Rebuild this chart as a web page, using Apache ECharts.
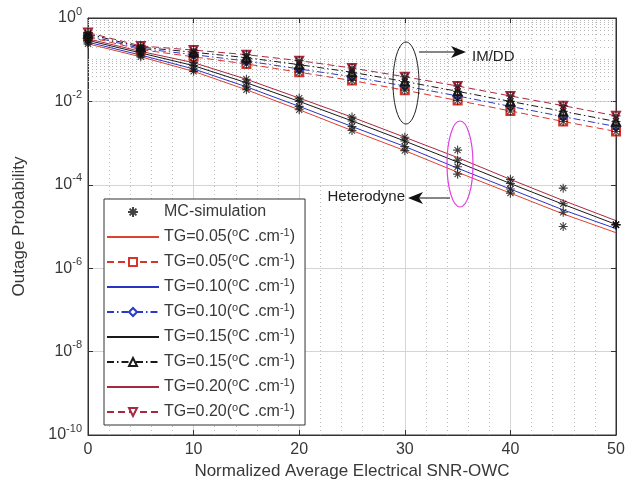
<!DOCTYPE html>
<html>
<head>
<meta charset="utf-8">
<script src="https://cdn.jsdelivr.net/npm/echarts@6/dist/echarts.min.js"></script>
<style>html,body{margin:0;padding:0;background:#fff;}#c{width:628px;height:494px;}</style>
</head>
<body>
<div id="c"></div>
<script>
// ---- data ----
const snr = [0, 5, 10, 15, 20, 25, 30, 35, 40, 45, 50];
const tgLabels = ['0.05', '0.10', '0.15', '0.20'];
const xTicks = [0, 10, 20, 30, 40, 50];

// Heterodyne (solid lines)
const het005 = [0.24, 0.117, 0.0525, 0.019, 6.3e-3, 2.0e-3, 6.6e-4, 2.0e-4, 6.3e-5, 2.0e-5, 7.1e-6];
const het010 = [0.263, 0.129, 0.060, 0.0224, 7.6e-3, 2.5e-3, 8.3e-4, 2.5e-4, 7.9e-5, 2.5e-5, 8.9e-6];
const het015 = [0.29, 0.145, 0.072, 0.028, 0.010, 3.4e-3, 1.12e-3, 3.5e-4, 1.07e-4, 3.4e-5, 1.12e-5];
const het020 = [0.316, 0.158, 0.085, 0.034, 0.012, 4.2e-3, 1.38e-3, 4.5e-4, 1.35e-4, 4.2e-5, 1.38e-5];

// IM/DD (dashed lines with markers)
const im005 = [0.355, 0.174, 0.117, 0.079, 0.050, 0.0316, 0.0186, 0.0105, 5.9e-3, 3.3e-3, 1.9e-3];
const im010 = [0.38, 0.186, 0.132, 0.093, 0.060, 0.039, 0.0234, 0.0135, 7.6e-3, 4.3e-3, 2.5e-3];
const im015 = [0.417, 0.200, 0.151, 0.112, 0.076, 0.050, 0.030, 0.0174, 0.010, 5.75e-3, 3.3e-3];
const im020 = [0.447, 0.214, 0.170, 0.132, 0.095, 0.063, 0.039, 0.0234, 0.0135, 7.9e-3, 4.5e-3];

// MC-simulation points (heterodyne)
const mcHet005 = [0.24, 0.117, 0.0525, 0.019, 6.3e-3, 2.0e-3, 6.6e-4, 1.8e-4, 6.3e-5, 1.0e-5, 1.1e-5];
const mcHet010 = [0.263, 0.129, 0.060, 0.0224, 7.6e-3, 2.5e-3, 8.3e-4, 2.7e-4, 7.9e-5, 2.2e-5, 1.1e-5];
const mcHet015 = [0.29, 0.145, 0.072, 0.028, 0.010, 3.4e-3, 1.12e-3, 3.9e-4, 1.07e-4, 3.5e-5, 1.1e-5];
const mcHet020 = [0.316, 0.158, 0.085, 0.034, 0.012, 4.2e-3, 1.38e-3, 6.8e-4, 1.35e-4, 8.3e-5, 1.1e-5];
// MC-simulation points (IM/DD)
const mcIm005 = [0.355, 0.174, 0.117, 0.079, 0.050, 0.0316, 0.0186, 0.0105, 5.9e-3, 3.3e-3, 1.9e-3];
const mcIm010 = [0.38, 0.186, 0.132, 0.093, 0.060, 0.039, 0.0234, 0.0135, 7.6e-3, 4.3e-3, 2.5e-3];
const mcIm015 = [0.417, 0.200, 0.151, 0.112, 0.076, 0.050, 0.030, 0.0174, 0.010, 5.75e-3, 3.3e-3];
const mcIm020 = [0.447, 0.214, 0.170, 0.132, 0.095, 0.063, 0.039, 0.0234, 0.0135, 7.9e-3, 4.5e-3];

// ---- styling ----
const FONT = '"Liberation Sans", Arial, sans-serif';
const TXT = '#383838';
const hetColors = ['#e0402e', '#2a34c4', '#1a1a1a', '#a8283f'];
const imColors = ['#d8352a', '#2a3ac8', '#1a1a1a', '#a8283f'];
const imDash = [[7, 4], [7, 3, 1.5, 3], [7, 3, 1.5, 3], [7, 4]];
const imSymbols = ['emptyRect', 'emptyDiamond', 'emptyTriangle', 'emptyTriangle'];
const imRotate = [0, 0, 0, 180];
const ASTERISK = 'path://M0,5L10,5M5,0L5,10M1.6,1.6L8.4,8.4M1.6,8.4L8.4,1.6';

const hetData = [het005, het010, het015, het020];
const imData = [im005, im010, im015, im020];
const mcHet = [mcHet005, mcHet010, mcHet015, mcHet020];
const mcIm = [mcIm005, mcIm010, mcIm015, mcIm020];

const pairs = arr => snr.map((x, i) => [x, arr[i]]);

// minor log grid values (helper, not data)
const yMinor = [];
for (let e = -10; e <= -1; e++) {
  for (let k = 1; k <= 9; k++) {
    if (k === 1 && e % 2 === 0) continue;
    yMinor.push(k * Math.pow(10, e));
  }
}

const series = [];
const legendData = [{ name: 'MC-simulation' }];
tgLabels.forEach((tg, i) => {
  series.push({
    name: 'het-' + tg, type: 'line', data: pairs(hetData[i]),
    symbol: 'none', lineStyle: { color: hetColors[i], width: 1 },
    itemStyle: { color: hetColors[i] }, z: 3, animation: false
  });
  series.push({
    name: 'im-' + tg, type: 'line', data: pairs(imData[i]),
    symbol: imSymbols[i], symbolRotate: imRotate[i], symbolSize: 8,
    showAllSymbol: true,
    lineStyle: { color: imColors[i], width: 1, type: imDash[i] },
    itemStyle: { color: imColors[i], borderColor: imColors[i], borderWidth: 1 },
    z: 3, animation: false
  });
  legendData.push({ name: 'het-' + tg, itemStyle: { opacity: 0 } }, { name: 'im-' + tg });
});
const mcPoints = [];
tgLabels.forEach((tg, i) => {
  mcPoints.push(...pairs(mcHet[i]));
  mcPoints.push(...pairs(mcIm[i]));
});
series.unshift({
  name: 'MC-simulation', type: 'scatter', data: mcPoints,
  symbol: ASTERISK, symbolSize: 9,
  itemStyle: { color: 'rgba(0,0,0,0)', borderColor: '#111', borderWidth: 1.1 },
  z: 5, animation: false
});
// helper series that draws the dotted minor log grid
series.push({
  name: '_grid', type: 'line', data: [], silent: true, animation: false,
  markLine: {
    silent: true, symbol: ['none', 'none'], animation: false, z: 1,
    label: { show: false },
    lineStyle: { type: [1, 3], color: '#b8b8b8', width: 1 },
    emphasis: { disabled: true },
    data: yMinor.map(v => ({ yAxis: v }))
  }
});

const supLabel = v => {
  const e = Math.round(Math.log10(v));
  return '{b|10}{e|' + e + '}';
};

const option = {
  backgroundColor: '#fff',
  animation: false,
  grid: { left: 88, right: 12, top: 18, bottom: 59, show: true, borderColor: '#333', borderWidth: 1, backgroundColor: '#fff' },
  legend: {
    data: legendData, orient: 'vertical', left: 104, top: 199,
    selectedMode: false,
    backgroundColor: '#fff', borderColor: '#333', borderWidth: 1,
    padding: [3, 10, 3, 2], itemGap: 5, itemWidth: 52, itemHeight: 10,
    textStyle: {
      fontFamily: FONT, fontSize: 16, color: TXT, lineHeight: 20,
      rich: {
        n: { fontFamily: FONT, fontSize: 16, color: TXT, lineHeight: 20 },
        s: { fontFamily: FONT, fontSize: 11, color: TXT, lineHeight: 20, verticalAlign: 'top' }
      }
    },
    formatter: name => {
      if (name === 'MC-simulation') return '{n|MC-simulation}';
      const tg = name.split('-')[1];
      return '{n|TG=' + tg + '(}{s|o}{n|C .cm}{s|-1}{n|)}';
    }
  },
  xAxis: [{
    type: 'value', min: 0, max: 50, interval: 10,
    name: 'Normalized Average Electrical SNR-OWC', nameLocation: 'middle', nameGap: 22,
    nameTextStyle: { fontFamily: FONT, fontSize: 17, color: TXT },
    axisLine: { show: true, onZero: false, lineStyle: { color: '#333', width: 1 } },
    axisTick: { show: true, inside: true, length: 5, lineStyle: { color: '#333' } },
    axisLabel: { fontFamily: FONT, fontSize: 16, color: TXT, margin: 7,
      formatter: v => (xTicks.indexOf(v) >= 0 ? String(v) : '') },
    splitLine: { show: true, lineStyle: { color: '#d4d4d4', width: 1 } },
    minorTick: { show: false, splitNumber: 5 },
    minorSplitLine: { show: true, lineStyle: { color: '#c0c0c0', type: [1, 3], width: 1 } }
  }, {
    type: 'value', min: 0, max: 50, interval: 10, position: 'top',
    axisLine: { show: true, onZero: false, lineStyle: { color: '#333' } },
    axisTick: { show: true, inside: true, length: 5, lineStyle: { color: '#333' } },
    axisLabel: { show: false }, splitLine: { show: false }
  }],
  yAxis: [{
    type: 'log', logBase: 100, min: 1e-10, max: 1,
    name: 'Outage Probability', nameLocation: 'middle', nameGap: 60,
    nameTextStyle: { fontFamily: FONT, fontSize: 17, color: TXT },
    axisLine: { show: true, onZero: false, lineStyle: { color: '#333', width: 1 } },
    axisTick: { show: true, inside: true, length: 5, lineStyle: { color: '#333' } },
    axisLabel: {
      fontFamily: FONT, fontSize: 16, color: TXT, margin: 6, formatter: supLabel,
      rich: {
        b: { fontFamily: FONT, fontSize: 16, color: TXT, lineHeight: 24 },
        e: { fontFamily: FONT, fontSize: 11, color: TXT, lineHeight: 24, verticalAlign: 'top' }
      }
    },
    splitLine: { show: true, lineStyle: { color: '#d4d4d4', width: 1 } }
  }, {
    type: 'log', logBase: 100, min: 1e-10, max: 1, position: 'right',
    axisLine: { show: true, onZero: false, lineStyle: { color: '#333' } },
    axisTick: { show: true, inside: true, length: 5, lineStyle: { color: '#333' } },
    axisLabel: { show: false }, splitLine: { show: false }
  }],
  series: series,
  graphic: [
    { type: 'ellipse', shape: { cx: 406, cy: 83, rx: 13, ry: 41 }, style: { fill: 'none', stroke: '#222', lineWidth: 1 }, z: 100 },
    { type: 'line', shape: { x1: 419, y1: 52, x2: 457, y2: 52 }, style: { stroke: '#111', lineWidth: 1.2 }, z: 100 },
    { type: 'polygon', shape: { points: [[466, 52], [451, 46], [455, 52], [451, 58]] }, style: { fill: '#111' }, z: 100 },
    { type: 'text', x: 472, y: 57, style: { text: 'IM/DD', font: '15px ' + FONT, fill: '#222', verticalAlign: 'middle' }, z: 100 },
    { type: 'ellipse', shape: { cx: 460, cy: 164, rx: 13, ry: 43 }, style: { fill: 'none', stroke: '#e23ee2', lineWidth: 1.2 }, z: 100 },
    { type: 'line', shape: { x1: 450, y1: 198, x2: 416, y2: 198 }, style: { stroke: '#111', lineWidth: 1.2 }, z: 100 },
    { type: 'polygon', shape: { points: [[408, 198], [423, 192], [419, 198], [423, 204]] }, style: { fill: '#111' }, z: 100 },
    { type: 'text', x: 405, y: 197, style: { text: 'Heterodyne', font: '15px ' + FONT, fill: '#222', align: 'right', verticalAlign: 'middle' }, z: 100 }
  ]
};

const chart = echarts.init(document.getElementById('c'), null, { renderer: 'canvas' });
chart.setOption(option);
</script>
</body>
</html>
